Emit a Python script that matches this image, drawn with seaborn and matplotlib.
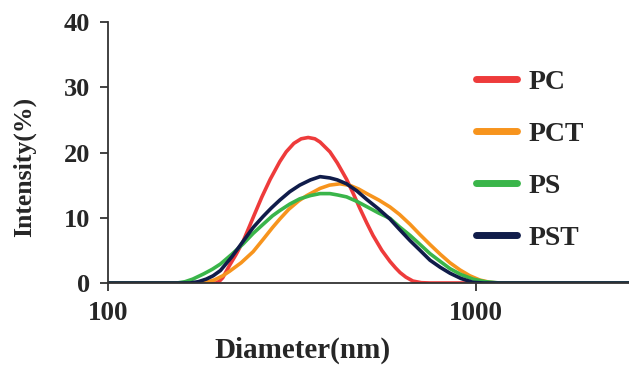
import pandas as pd
import numpy as np
import matplotlib
matplotlib.use("Agg")
import matplotlib.pyplot as plt
import seaborn as sns

# DLS size distributions (diameter in nm, intensity in %)
pc_d = [100, 190, 197, 201, 205, 214, 223, 233, 242, 250, 262, 276, 293, 305, 320, 335, 350,
        365, 377, 401, 420, 445, 465, 484, 505, 525, 555, 584, 605, 622, 645, 674, 710, 750, 1000, 2606]
pc_i = [0, 0, 0, 0.3, 0.8, 2.7, 4.4, 6.4, 8.6, 10.5, 13.2, 15.9, 18.6, 20.1, 21.4, 22.1, 22.3,
        22.1, 21.6, 20.1, 18.4, 15.9, 13.6, 11.4, 9.2, 7.3, 5.0, 3.3, 2.3, 1.6, 0.9, 0.3, 0.05, 0, 0, 0]

pct_d = [100, 178, 186, 195, 205, 214, 230, 248, 265, 280, 293, 310, 330, 347, 377, 400, 427,
         455, 480, 505, 545, 584, 620, 662, 705, 750, 800, 850, 905, 963, 1025, 1092, 1150, 2606]
pct_i = [0, 0, 0.15, 0.5, 1.1, 1.8, 3.1, 4.8, 6.8, 8.5, 9.8, 11.3, 12.6, 13.4, 14.5, 15.0, 15.2,
         14.95, 14.4, 13.7, 12.7, 11.65, 10.5, 9.0, 7.4, 5.9, 4.4, 3.1, 2.0, 1.1, 0.45, 0.1, 0, 0]

ps_d = [100, 154, 162, 170, 182, 192, 202, 217, 233, 248, 264, 280, 293, 312, 332, 355, 377,
        401, 420, 445, 475, 505, 545, 584, 620, 662, 705, 750, 800, 850, 910, 981, 1060, 1162, 2606]
ps_i = [0, 0, 0.2, 0.6, 1.4, 2.1, 2.9, 4.4, 6.0, 7.6, 9.0, 10.3, 11.1, 12.1, 12.9, 13.4, 13.7,
        13.7, 13.5, 13.2, 12.5, 11.7, 10.7, 9.9, 8.6, 7.3, 5.9, 4.5, 3.3, 2.2, 1.3, 0.6, 0.2, 0, 0]

pst_d = [100, 167, 176, 185, 193, 202, 217, 233, 248, 264, 278, 293, 312, 332, 355, 377, 401,
         420, 445, 475, 505, 545, 584, 620, 662, 705, 750, 800, 850, 910, 981, 1050, 2606]
pst_i = [0, 0, 0.2, 0.6, 1.1, 1.9, 4.0, 6.4, 8.5, 10.2, 11.5, 12.7, 14.0, 15.0, 15.8, 16.3, 16.1,
         15.8, 15.2, 14.1, 12.8, 11.3, 9.8, 8.2, 6.5, 5.0, 3.5, 2.4, 1.5, 0.7, 0.1, 0, 0]

samples = ["PC", "PCT", "PS", "PST"]
colors = ["#EE3B3B", "#F7941D", "#3AB54A", "#101C4A"]

df = pd.concat([
    pd.DataFrame({"diameter": pc_d, "intensity": pc_i, "sample": "PC"}),
    pd.DataFrame({"diameter": pct_d, "intensity": pct_i, "sample": "PCT"}),
    pd.DataFrame({"diameter": ps_d, "intensity": ps_i, "sample": "PS"}),
    pd.DataFrame({"diameter": pst_d, "intensity": pst_i, "sample": "PST"}),
], ignore_index=True)

sns.set_style("ticks")
plt.rcParams["font.family"] = ["Liberation Serif", "DejaVu Serif"]
plt.rcParams["font.weight"] = "bold"

fig = plt.figure(figsize=(6.29, 3.66), dpi=100)
ax = fig.add_axes([108 / 629, 1 - 283 / 366, 1 - 108 / 629, (283 - 22) / 366])

sns.lineplot(data=df, x="diameter", y="intensity", hue="sample", hue_order=samples,
             palette=colors, estimator=None, sort=False, linewidth=2.6, ax=ax)
for line in ax.get_lines():
    line.set_solid_joinstyle("round")

ax.set_xscale("log")
ax.set_xlim(100, 2606)
ax.set_ylim(0, 40)
ax.set_xticks([100, 1000])
ax.set_xticklabels(["100", "1000"])
ax.xaxis.set_minor_locator(matplotlib.ticker.NullLocator())
ax.set_yticks([0, 10, 20, 30, 40])

ax.tick_params(axis="y", labelsize=19, length=6, width=1.3, pad=7, color="#333333")
ax.tick_params(axis="x", labelsize=19.5, length=6, width=1.3, pad=7, color="#333333")
for lab in ax.get_xticklabels() + ax.get_yticklabels():
    lab.set_fontweight("bold")

for s in ["top", "right"]:
    ax.spines[s].set_visible(False)
for s in ["left", "bottom"]:
    ax.spines[s].set_linewidth(1.3)
    ax.spines[s].set_color("#333333")

ax.set_xlabel("Diameter(nm)", fontsize=21, fontweight="bold")
ax.set_ylabel("Intensity(%)", fontsize=18.5, fontweight="bold")
ax.xaxis.set_label_coords(0.374, -0.205)
ax.yaxis.set_label_coords(-0.138, 0.444)

handles, labels = ax.get_legend_handles_labels()
leg = ax.legend(handles, labels, loc="center left", bbox_to_anchor=(0.706, 0.471),
                frameon=False, fontsize=20, handlelength=1.5, handletextpad=0.4,
                labelspacing=0.95, borderpad=0, borderaxespad=0)
for line in leg.get_lines():
    line.set_linewidth(5)
for t in leg.get_texts():
    t.set_fontweight("bold")

fig.savefig("out.png", dpi=100)
